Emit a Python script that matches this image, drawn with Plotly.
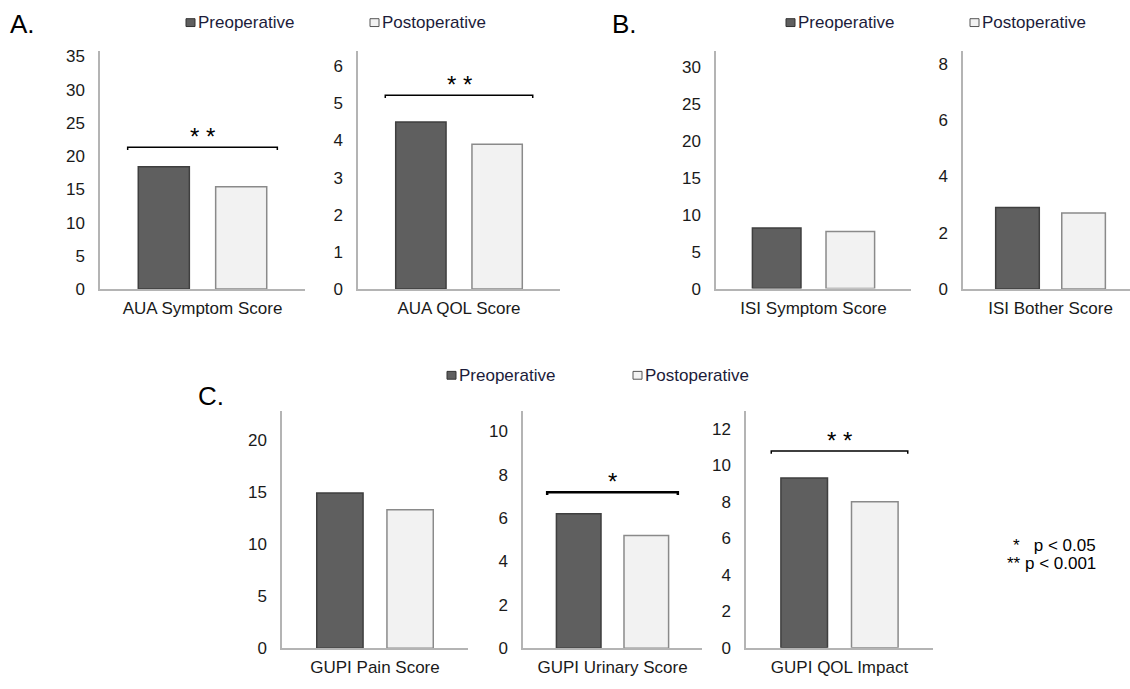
import plotly.graph_objects as go

W, H = 1130, 689

# ---- data ----
panels = ["AUA Symptom Score", "AUA QOL Score", "ISI Symptom Score", "ISI Bother Score",
          "GUPI Pain Score", "GUPI Urinary Score", "GUPI QOL Impact"]
preoperative = [18.4, 4.5, 8.2, 2.9, 14.9, 6.2, 9.3]
postoperative = [15.4, 3.9, 7.7, 2.7, 13.3, 5.2, 8.0]
significance = ["* *", "* *", "", "", "", "*", "* *"]
p_key = ["*\u00a0\u00a0\u00a0p < 0.05", "** p < 0.001"]

# ---- axis styling / layout ----
y_max = [35.8, 6.41, 32.1, 8.46, 22.8, 10.95, 13.0]
y_dtick = [5, 1, 5, 2, 5, 2, 2]
# domains in pixels: (x0, x1, ytop, ybottom)
dom_px = [(100, 305, 48, 291), (358, 560, 48, 291), (716, 911, 48, 290.5),
          (963, 1130, 48, 291), (282, 468, 415, 657.7), (523, 702, 415, 657.7),
          (746, 933, 415, 657)]
x_range = [[-0.5, 0.5]] * 3 + [[-0.5, 0.454]] + [[-0.5, 0.5]] * 3

PRE_FILL, PRE_LINE = "#5f5f5f", "#3f3f3f"
POST_FILL, POST_LINE = "#f2f2f2", "#8a8a8a"
AXIS_COL = "#b4b4b4"
FONT = "Liberation Sans, Arial, sans-serif"
TXT = "#1a1a1a"


def px2x(px):
    return px / W


def px2y(py):
    return 1 - py / H


fig = go.Figure()
layout = dict(
    width=W, height=H, margin=dict(l=0, r=0, t=0, b=0),
    paper_bgcolor="white", plot_bgcolor="white",
    barmode="group", bargap=0.245, bargroupgap=0.34,
    showlegend=False, font=dict(family=FONT, color=TXT),
)
shapes = []
annotations = []

for i, name in enumerate(panels):
    k = i + 1
    xa = "x" if k == 1 else f"x{k}"
    ya = "y" if k == 1 else f"y{k}"
    fig.add_trace(go.Bar(x=[name], y=[preoperative[i]], xaxis=xa, yaxis=ya,
                         name="Preoperative",
                         marker=dict(color=PRE_FILL, line=dict(color=PRE_LINE, width=1.5))))
    fig.add_trace(go.Bar(x=[name], y=[postoperative[i]], xaxis=xa, yaxis=ya,
                         name="Postoperative",
                         marker=dict(color=POST_FILL, line=dict(color=POST_LINE, width=1.5))))
    x0, x1, yt, yb = dom_px[i]
    layout["xaxis" if k == 1 else f"xaxis{k}"] = dict(
        domain=[px2x(x0), px2x(x1)], anchor=ya, range=x_range[i],
        showline=True, linecolor=AXIS_COL, linewidth=1.5, showgrid=False,
        ticks="", tickfont=dict(size=17, color=TXT, family=FONT),
        ticklabelstandoff=3, fixedrange=True,
    )
    layout["yaxis" if k == 1 else f"yaxis{k}"] = dict(
        domain=[px2y(yb), px2y(yt)], anchor=xa, range=[0, y_max[i]],
        dtick=y_dtick[i], tick0=0, showline=True, linecolor=AXIS_COL, linewidth=1.5,
        showgrid=False, zeroline=False, ticks="",
        tickfont=dict(size=17, color=TXT, family=FONT), ticklabelstandoff=10,
        fixedrange=True,
    )
    sig = significance[i]
    if sig:
        top = max(preoperative[i], postoperative[i]) * 1.16
        d = y_max[i] * 0.012
        bw = 2.5 if sig == "*" else 1.5
        shapes.append(dict(
            type="path", xref=xa, yref=ya,
            path=f"M -0.365 {top - d} L -0.365 {top} L 0.365 {top} L 0.365 {top - d}",
            line=dict(color="black", width=bw),
        ))
        annotations.append(dict(
            x=0, y=top, xref=xa, yref=ya, text=sig, showarrow=False,
            yanchor="bottom", yshift=-5, font=dict(size=24, color="black", family=FONT),
        ))

# panel letters
for letter, (lx, ly) in {"A.": (8, 20), "B.": (610, 20), "C.": (196, 400)}.items():
    annotations.append(dict(x=px2x(lx), y=px2y(ly), xref="paper", yref="paper",
                            text=letter, showarrow=False, xanchor="left", yanchor="middle",
                            font=dict(size=26, color="black", family=FONT)))

# legends: key square + label
legend_items = [("Preoperative", PRE_FILL, "#333333", 186, 19),
                ("Postoperative", POST_FILL, "#555555", 370, 19),
                ("Preoperative", PRE_FILL, "#333333", 786, 19),
                ("Postoperative", POST_FILL, "#555555", 970, 19),
                ("Preoperative", PRE_FILL, "#333333", 447, 379),
                ("Postoperative", POST_FILL, "#555555", 633, 379)]
for label, fill, edge, lx, ly in legend_items:
    shapes.append(dict(type="rect", xref="paper", yref="paper",
                       x0=px2x(lx), x1=px2x(lx + 9), y0=px2y(ly + 4), y1=px2y(ly - 4),
                       fillcolor=fill, line=dict(color=edge, width=1)))
    annotations.append(dict(
        x=px2x(lx + 10), y=px2y(ly), xref="paper", yref="paper", showarrow=False,
        xanchor="left", yanchor="middle", text=label,
        font=dict(size=17, color="#1c1c3a", family=FONT)))

# p-value key (two lines)
for line_text, ly in zip(p_key, [553, 571]):
    annotations.append(dict(
        x=px2x(1098), y=px2y(ly), xref="paper", yref="paper", showarrow=False,
        xanchor="right", yanchor="middle", text=line_text,
        font=dict(size=17, color="black", family=FONT)))

layout["shapes"] = shapes
layout["annotations"] = annotations
fig.update_layout(**layout)
fig.write_html("out.html", config={"displayModeBar": False},
               post_script="document.body.style.margin='0';")
